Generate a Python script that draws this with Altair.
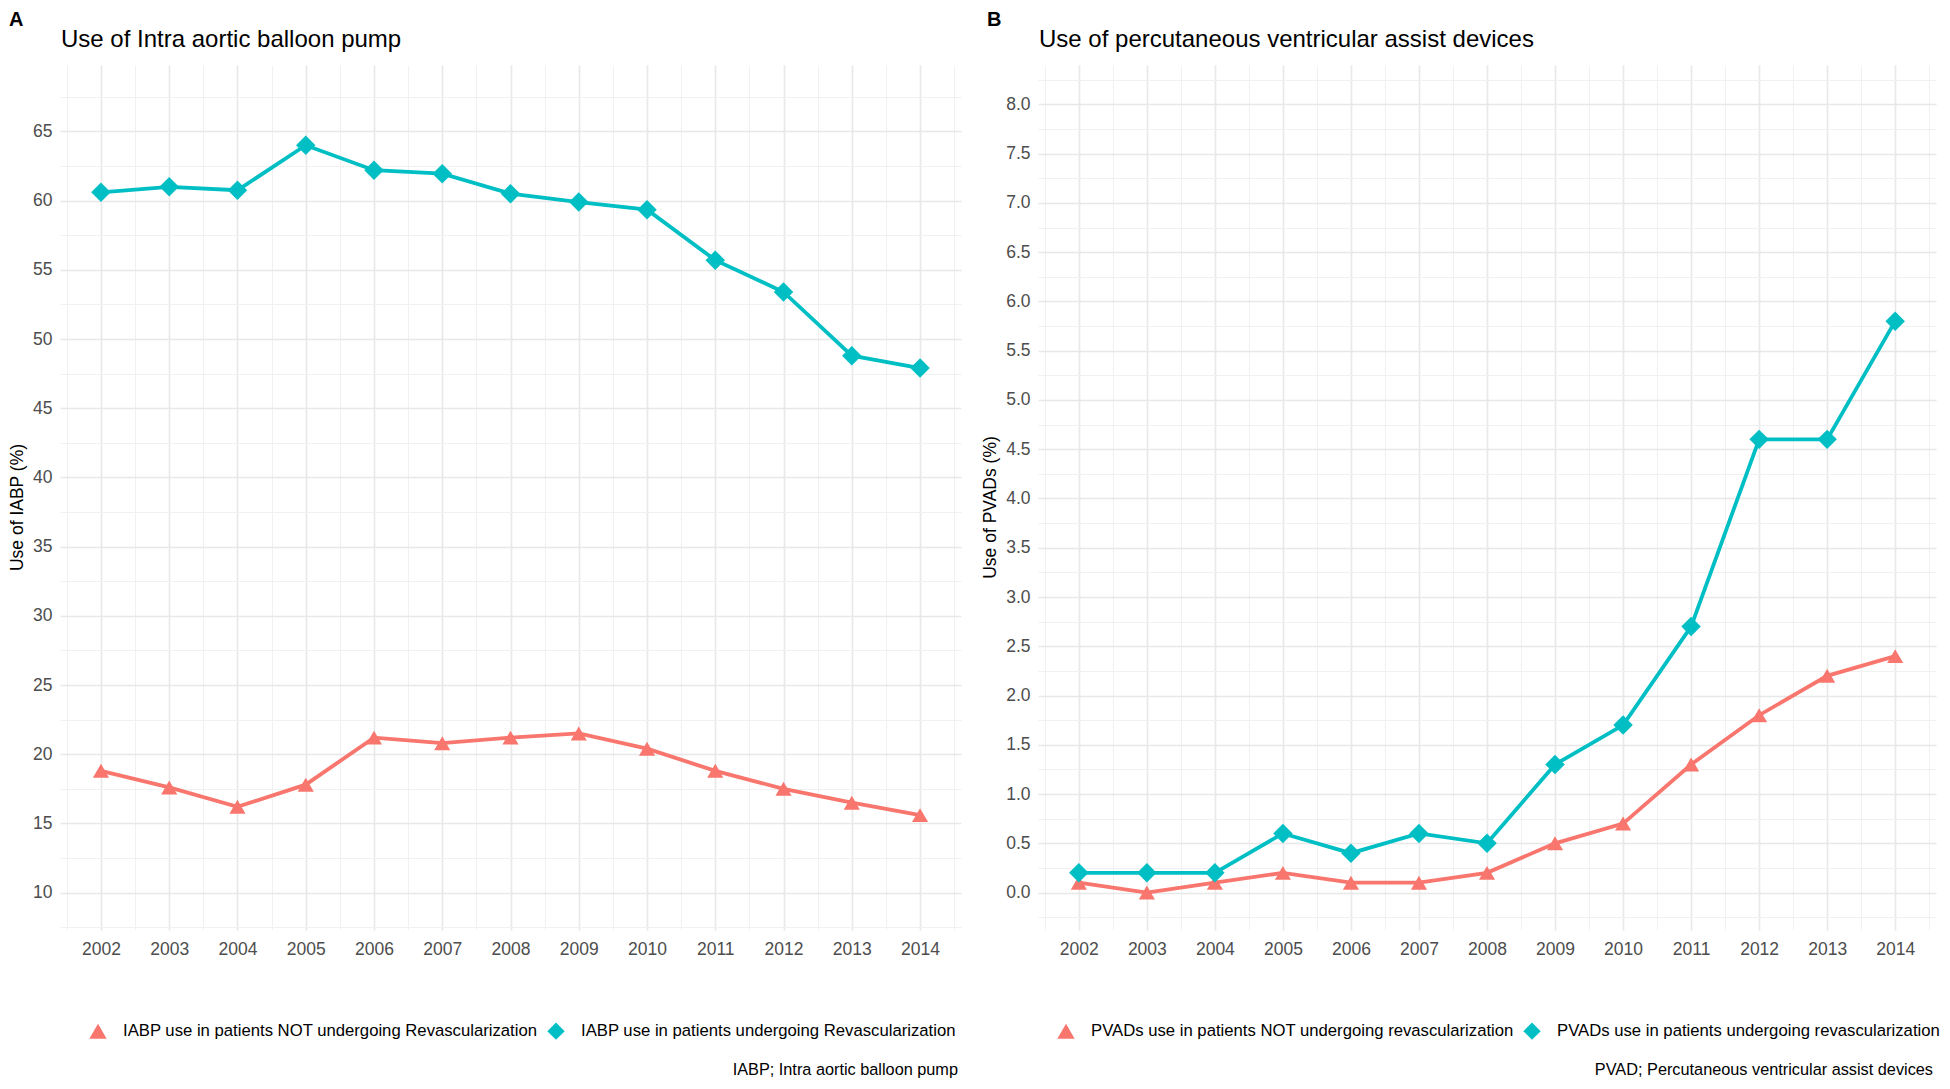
import altair as alt
import pandas as pd

# ---------------- data ----------------
years = list(range(2002, 2015))

iabp_series = ["IABP use in patients NOT undergoing Revascularization",
               "IABP use in patients undergoing Revascularization"]
iabp_not_rev = [18.8, 17.6, 16.2, 17.8, 21.2, 20.8, 21.2, 21.5, 20.4, 18.8, 17.5, 16.5, 15.6]
iabp_rev = [60.6, 61.0, 60.75, 64.0, 62.2, 61.95, 60.5, 59.9, 59.35, 55.7, 53.4, 48.8, 47.9]

pvad_series = ["PVADs use in patients NOT undergoing revascularization",
               "PVADs use in patients undergoing revascularization"]
pvad_not_rev = [0.1, 0.0, 0.1, 0.2, 0.1, 0.1, 0.2, 0.5, 0.7, 1.3, 1.8, 2.2, 2.4]
pvad_rev = [0.2, 0.2, 0.2, 0.6, 0.4, 0.6, 0.5, 1.3, 1.7, 2.7, 4.6, 4.6, 5.8]

titles = ["Use of Intra aortic balloon pump", "Use of percutaneous ventricular assist devices"]
letters = ["A", "B"]
y_titles = ["Use of IABP (%)", "Use of PVADs (%)"]
captions = ["IABP; Intra aortic balloon pump", "PVAD; Percutaneous ventricular assist devices"]

colors = ["#F8766D", "#00BFC4"]
shapes = ["triangle-up", "diamond"]
point_sizes = [260, 380]

FONT = "Liberation Sans"
H = 865


def long_df(series_names, a, b):
    rows = []
    for yr, v in zip(years, a):
        rows.append({"year": yr, "value": v, "series": series_names[0]})
    for yr, v in zip(years, b):
        rows.append({"year": yr, "value": v, "series": series_names[1]})
    return pd.DataFrame(rows)


x_vals = [2001.5 + 0.5 * i for i in range(27)]
x_test = "datum.value % 1 === 0"


def panel(df, series_names, width, ydomain, yvals, ytest, yfmt, title, letter,
          ytitle, caption, legend_x):
    color_scale = alt.Scale(domain=series_names, range=colors)
    shape_scale = alt.Scale(domain=series_names, range=shapes)
    is_first = alt.datum.series == series_names[0]

    x = alt.X(
        "year:Q",
        scale=alt.Scale(domain=[2001.4, 2014.6], nice=False, zero=False),
        axis=alt.Axis(
            values=x_vals,
            labelExpr=f"{x_test} ? format(datum.value, 'd') : ''",
            title=None, domain=False, ticks=False, tickSize=0,
            labelFont=FONT, labelFontSize=17.5, labelColor="#4d4d4d",
            labelPadding=10, labelOverlap=False, labelFlush=False,
            gridColor={"condition": {"test": x_test, "value": "#e8e8e8"}, "value": "#f1f1f1"},
            gridWidth={"condition": {"test": x_test, "value": 1.6}, "value": 1.1},
        ),
    )
    y = alt.Y(
        "value:Q",
        scale=alt.Scale(domain=ydomain, nice=False, zero=False),
        axis=alt.Axis(
            values=yvals,
            labelExpr=f"{ytest} ? format(datum.value, '{yfmt}') : ''",
            title=ytitle, titleFont=FONT, titleFontSize=17.5, titleFontWeight="normal",
            titleColor="black", titlePadding=6, titleY=442,
            domain=False, ticks=False, tickSize=0,
            labelFont=FONT, labelFontSize=17.5, labelColor="#4d4d4d",
            labelPadding=8, labelOverlap=False, labelFlush=False,
            gridColor={"condition": {"test": ytest, "value": "#e8e8e8"}, "value": "#f1f1f1"},
            gridWidth={"condition": {"test": ytest, "value": 1.6}, "value": 1.1},
        ),
    )

    leg = alt.Legend(
        title=None, orient="none", legendX=legend_x, legendY=H + 92,
        direction="horizontal",
        symbolSize=300, symbolOpacity=1, symbolStrokeWidth=0,
        labelFont=FONT, labelFontSize=16.7, labelColor="black", labelLimit=1000,
        labelOffset=16, columnPadding=9, padding=0,
    )

    base = alt.Chart(df)
    lines = base.mark_line(strokeWidth=3.8).encode(
        x=x, y=y,
        stroke=alt.condition(is_first, alt.value(colors[0]), alt.value(colors[1])),
        detail="series:N",
    )
    points = base.mark_point(filled=True, opacity=1).encode(
        x=x, y=y,
        color=alt.Color("series:N", scale=color_scale, legend=leg),
        shape=alt.Shape("series:N", scale=shape_scale, legend=leg),
        size=alt.condition(is_first, alt.value(point_sizes[0]), alt.value(point_sizes[1])),
    )
    letter_txt = alt.Chart(pd.DataFrame({"t": [letter]})).mark_text(
        font=FONT, fontSize=20, fontWeight="bold", align="left",
        baseline="alphabetic", color="black",
    ).encode(text="t:N", x=alt.value(-51), y=alt.value(-39))
    title_txt = alt.Chart(pd.DataFrame({"t": [title]})).mark_text(
        font=FONT, fontSize=24, align="left", baseline="alphabetic", color="black",
    ).encode(text="t:N", x=alt.value(1), y=alt.value(-18))
    caption_txt = alt.Chart(pd.DataFrame({"t": [caption]})).mark_text(
        font=FONT, fontSize=16.3, align="right", baseline="middle", color="black",
    ).encode(text="t:N", x=alt.value(width - 3), y=alt.value(H + 140))

    return alt.layer(lines, points, letter_txt, title_txt, caption_txt).properties(
        width=width, height=H,
    )


df_iabp = long_df(iabp_series, iabp_not_rev, iabp_rev)
df_pvad = long_df(pvad_series, pvad_not_rev, pvad_rev)

left_yvals = [7.5 + 2.5 * i for i in range(25)]
right_yvals = [-0.25 + 0.25 * i for i in range(35)]

left = panel(df_iabp, iabp_series, 901, [7.3, 69.8], left_yvals,
             "datum.value % 5 === 0", "d", titles[0], letters[0], y_titles[0],
             captions[0], 29)
right = panel(df_pvad, pvad_series, 898, [-0.38, 8.4], right_yvals,
              "abs(datum.value * 2 - round(datum.value * 2)) < 0.001", ".1f",
              titles[1], letters[1], y_titles[1], captions[1], 19)

chart = (
    alt.hconcat(left, right, spacing=20)
    .resolve_scale(color="independent", shape="independent")
    .resolve_legend(color="independent", shape="independent")
    .properties(padding={"left": 0, "top": 2, "right": 0, "bottom": 0},
                background="white")
    .configure_view(stroke=None)
)

chart.save("out.html", embed_options={"renderer": "svg", "actions": False})
